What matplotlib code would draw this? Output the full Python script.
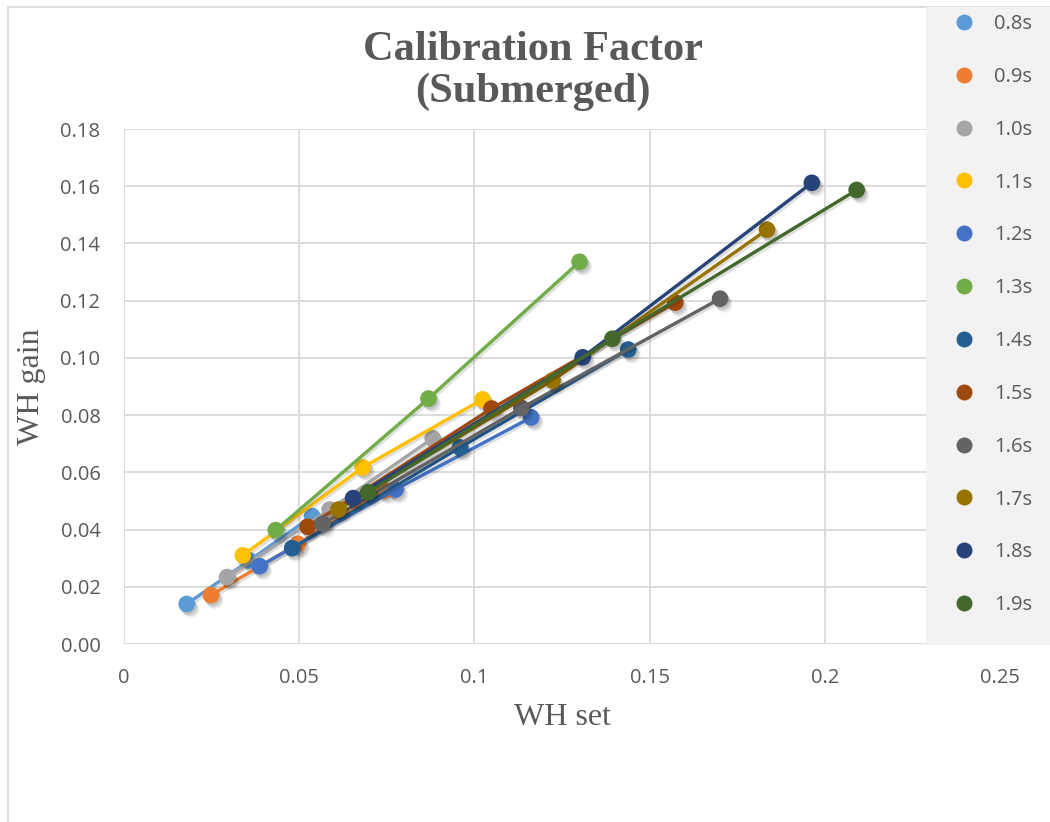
import matplotlib
matplotlib.use("Agg")
import matplotlib.pyplot as plt
import matplotlib.patheffects as pe
from matplotlib.lines import Line2D
from matplotlib.patches import Rectangle

# ---- data ----
periods = ["0.8s", "0.9s", "1.0s", "1.1s", "1.2s", "1.3s",
           "1.4s", "1.5s", "1.6s", "1.7s", "1.8s", "1.9s"]
wh_set = [
    [0.0179, 0.0358, 0.0537],
    [0.0248, 0.0496, 0.0744],
    [0.0294, 0.0587, 0.0881],
    [0.0339, 0.0681, 0.1023],
    [0.0387, 0.0775, 0.1162],
    [0.0433, 0.0869, 0.1300],
    [0.0480, 0.0959, 0.1439],
    [0.0524, 0.1049, 0.1573],
    [0.0567, 0.1134, 0.1701],
    [0.0612, 0.1223, 0.1835],
    [0.0654, 0.1309, 0.1963],
    [0.0697, 0.1394, 0.2091],
]
wh_gain = [
    [0.0140, 0.0292, 0.0447],
    [0.0171, 0.0350, 0.0537],
    [0.0234, 0.0470, 0.0719],
    [0.0310, 0.0617, 0.0855],
    [0.0272, 0.0540, 0.0792],
    [0.0398, 0.0858, 0.1336],
    [0.0335, 0.0687, 0.1029],
    [0.0410, 0.0823, 0.1193],
    [0.0420, 0.0825, 0.1207],
    [0.0470, 0.0921, 0.1448],
    [0.0510, 0.1002, 0.1612],
    [0.0530, 0.1067, 0.1587],
]
colors = ["#5B9BD5", "#ED7D31", "#A5A5A5", "#FFC000", "#4472C4", "#70AD47",
          "#255E91", "#9E480E", "#636363", "#997300", "#264478", "#43682B"]
x_ticks = [0, 0.05, 0.1, 0.15, 0.2, 0.25]
x_tick_labels = ["0", "0.05", "0.1", "0.15", "0.2", "0.25"]
y_ticks = [0.00, 0.02, 0.04, 0.06, 0.08, 0.10, 0.12, 0.14, 0.16, 0.18]

W, H = 1050, 822
TXT = "#595959"
fig = plt.figure(figsize=(W / 100, H / 100), dpi=100)

# chart area border
fig.add_artist(Rectangle((8 / W, -0.1), 1.2, 1 - 7 / H + 0.1, transform=fig.transFigure,
                         fill=False, edgecolor="#D9D9D9", linewidth=1.2, zorder=0))

ax = fig.add_axes([124 / W, 1 - 644 / H, 876 / W, 515 / H])
ax.set_xlim(0, 0.25)
ax.set_ylim(0, 0.18)
ax.set_xticks(x_ticks)
ax.set_xticklabels(x_tick_labels)
ax.set_yticks(y_ticks)
ax.set_yticklabels([f"{v:.2f}" for v in y_ticks])
ax.grid(True, color="#D9D9D9", linewidth=1.3)
ax.set_axisbelow(True)
for s in ax.spines.values():
    s.set_visible(False)
ax.tick_params(length=0, labelcolor=TXT, labelsize=14.5)
ax.tick_params(axis="x", pad=17)
ax.tick_params(axis="y", pad=17)
for lab in ax.get_xticklabels() + ax.get_yticklabels():
    lab.set_fontfamily("Open Sans")

line_shadow = [pe.SimpleLineShadow(offset=(1.5, -1.5), shadow_color="k", alpha=0.12), pe.Normal()]
mark_shadow = [pe.SimplePatchShadow(offset=(1.0, -1.5), shadow_rgbFace="k", alpha=0.10),
               pe.SimplePatchShadow(offset=(2.0, -2.8), shadow_rgbFace="k", alpha=0.10),
               pe.SimplePatchShadow(offset=(3.0, -4.0), shadow_rgbFace="k", alpha=0.07),
               pe.Normal()]

for i, (xs, ys, c) in enumerate(zip(wh_set, wh_gain, colors)):
    ax.plot(xs, ys, color=c, linewidth=2.4, solid_capstyle="round",
            path_effects=line_shadow, zorder=2 + i * 0.01)
    ax.plot(xs, ys, linestyle="none", marker="o", markersize=12, color=c,
            markeredgewidth=0, path_effects=mark_shadow, zorder=2 + i * 0.01 + 0.005)

ax.set_xlabel("WH set", family="Liberation Serif", fontsize=23, color=TXT)
ax.xaxis.set_label_coords(0.5, -0.115)
ax.set_ylabel("WH gain", family="Liberation Serif", fontsize=23, color=TXT)
ax.yaxis.set_label_coords(-0.089, 0.5)

fig.text(533 / W, 1 - 71 / H, "Calibration Factor\n(Submerged)", ha="center", va="center",
         family="Liberation Serif", fontweight="bold", fontsize=30.5, color=TXT,
         linespacing=1.12)

# legend background
fig.add_artist(Rectangle((926 / W, 1 - 645 / H), 124 / W, 638 / H, transform=fig.transFigure,
                         facecolor="#F2F2F2", edgecolor="none", zorder=3))
handles = [Line2D([], [], linestyle="none", marker="o", markersize=11.5, color=c,
                  markeredgewidth=0) for c in colors]
leg = fig.legend(handles, periods, loc="upper left", bbox_to_anchor=(944 / W, 1 - 4 / H),
                 frameon=False, borderpad=0, handlelength=1.0, handletextpad=1.0,
                 labelspacing=1.63, prop={"family": "Open Sans", "size": 14.5})
leg.set_zorder(4)
for t in leg.get_texts():
    t.set_color(TXT)

fig.savefig("out.png", dpi=100)
